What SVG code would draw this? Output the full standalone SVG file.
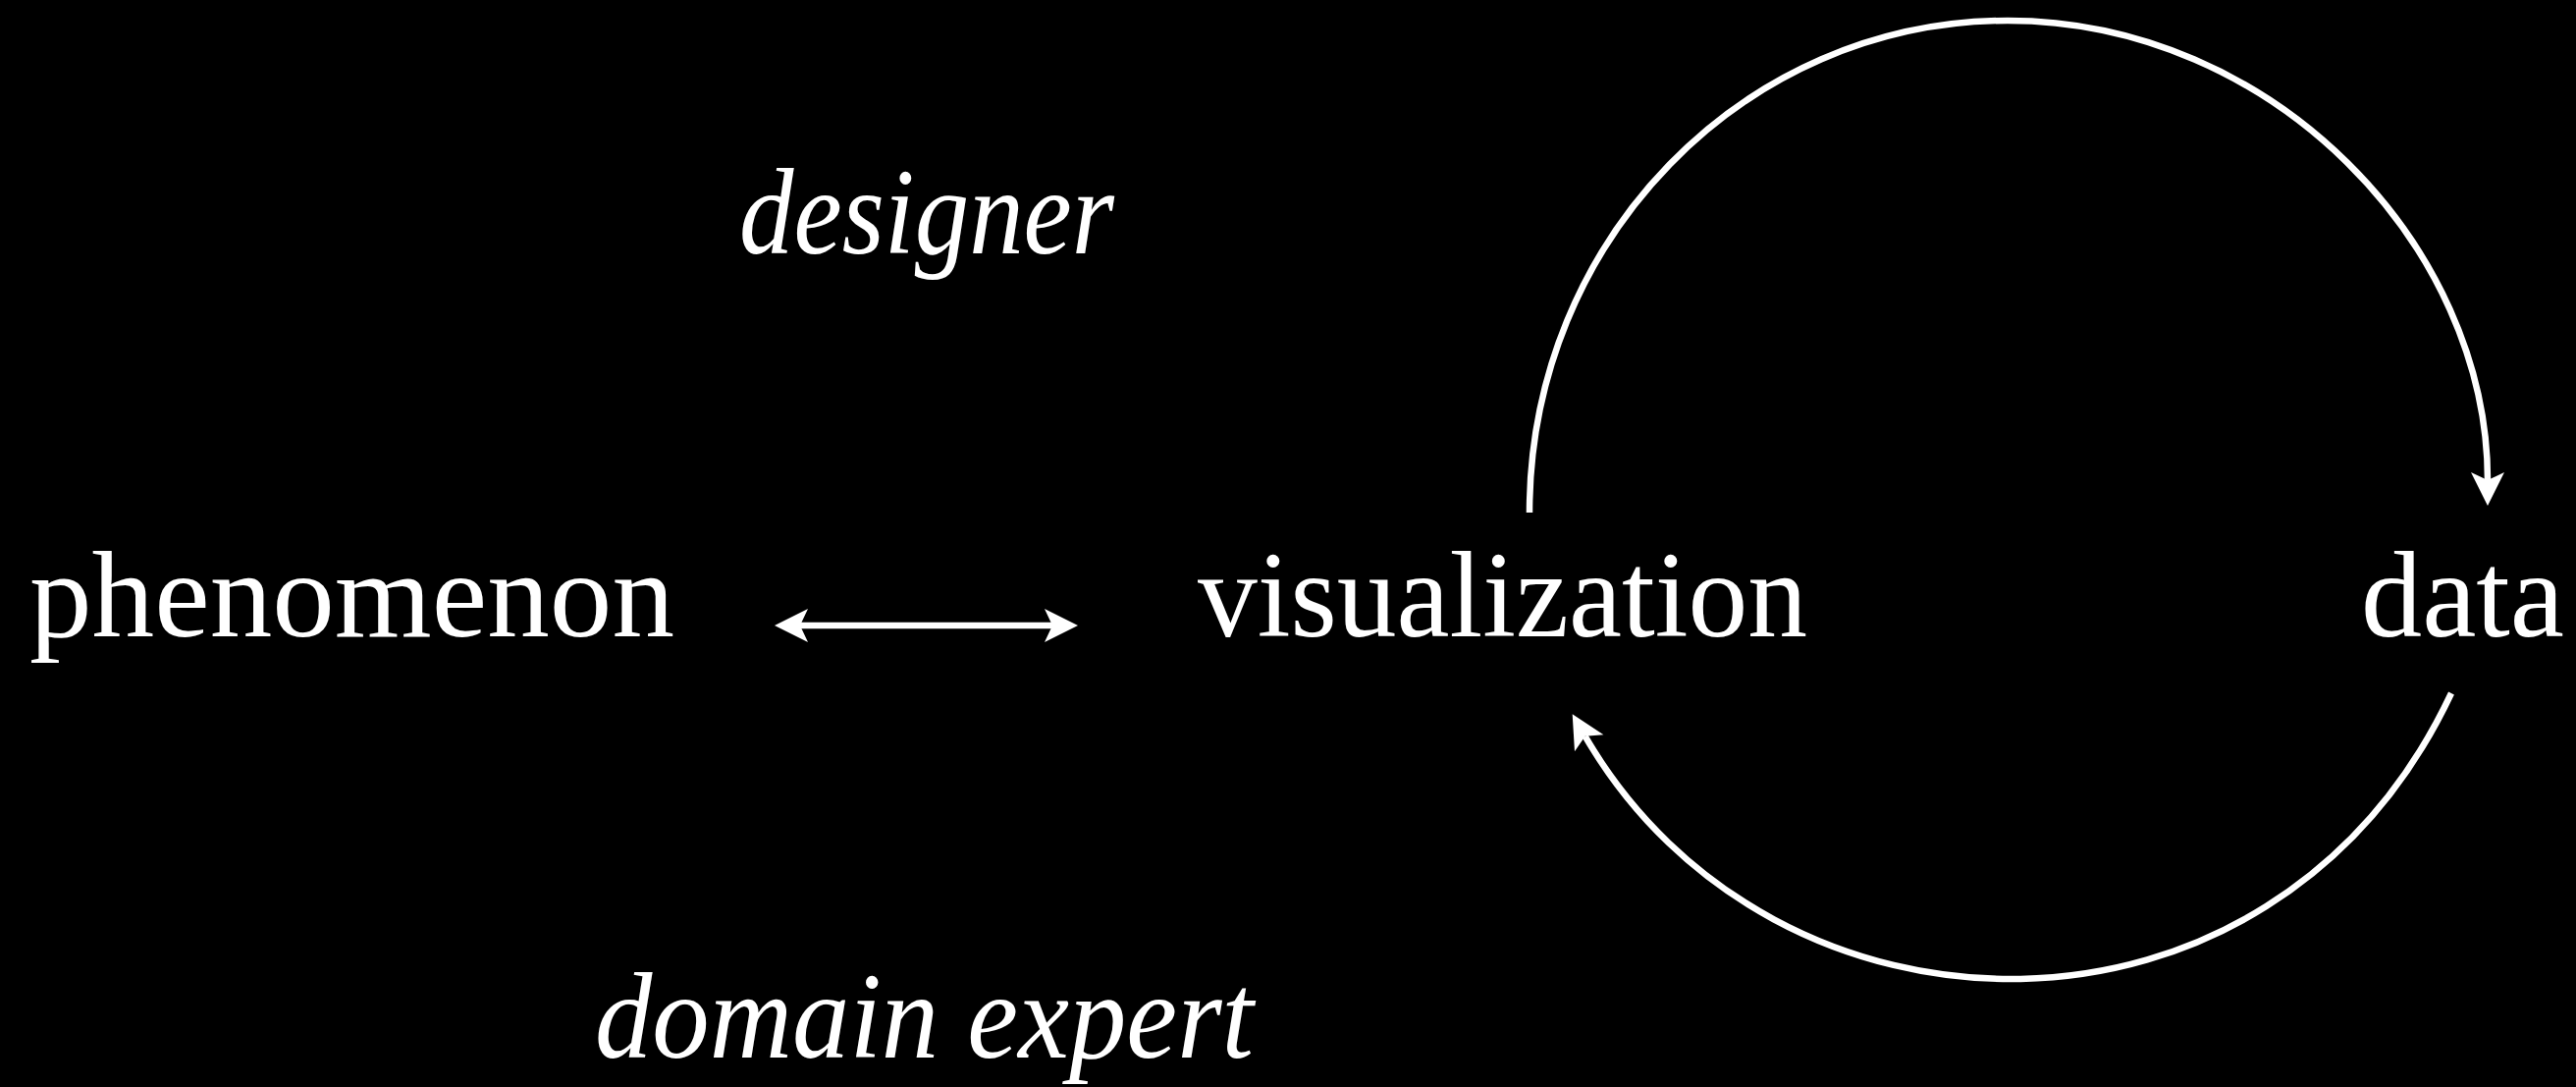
<svg xmlns="http://www.w3.org/2000/svg" width="2624" height="1107" viewBox="0 0 2624 1107">
  <style>
    .lbl { font-family: "Liberation Serif", "Times New Roman", serif; font-size: 124px; fill: #ffffff; }
    .role { font-family: "Liberation Serif", "Times New Roman", serif; font-size: 124px; font-style: italic; fill: #ffffff; }
    .conn { fill: none; stroke: #ffffff; stroke-width: 6.5; }
  </style>
  <defs>
    <marker id="head" markerUnits="userSpaceOnUse" markerWidth="40" markerHeight="40" viewBox="-10 -20 40 40" refX="0" refY="0" orient="auto-start-reverse" overflow="visible">
      <path d="M26,0 L-8,-17 L0,0 L-8,17 Z" fill="#ffffff"/>
    </marker>
  </defs>
  <rect x="0" y="0" width="2624" height="1107" fill="#000000"/>

  <g id="phenomenon">
    <text class="lbl" x="30" y="648" textLength="657" lengthAdjust="spacingAndGlyphs">phenomenon</text>
  </g>
  <g id="visualization">
    <text class="lbl" x="1220" y="648" textLength="621" lengthAdjust="spacingAndGlyphs">visualization</text>
  </g>
  <g id="data">
    <text class="lbl" x="2405" y="648" textLength="207" lengthAdjust="spacingAndGlyphs">data</text>
  </g>
  <g id="designer">
    <text class="role" x="753" y="258" textLength="382" lengthAdjust="spacingAndGlyphs">designer</text>
  </g>
  <g id="domain-expert">
    <text class="role" x="606" y="1077" textLength="671" lengthAdjust="spacingAndGlyphs">domain expert</text>
  </g>

  <g id="connectors">
    <path class="conn" d="M815,637 L1072,637" marker-start="url(#head)" marker-end="url(#head)"/>
    <path class="conn" d="M1558,522 C1558,245 1776,21 2045,21 C2315,21 2534,250 2534,489" marker-end="url(#head)"/>
    <path class="conn" d="M2497,706 C2313.4,1094.7 1804.7,1078.5 1614.7,749.8" marker-end="url(#head)"/>
  </g>
</svg>
